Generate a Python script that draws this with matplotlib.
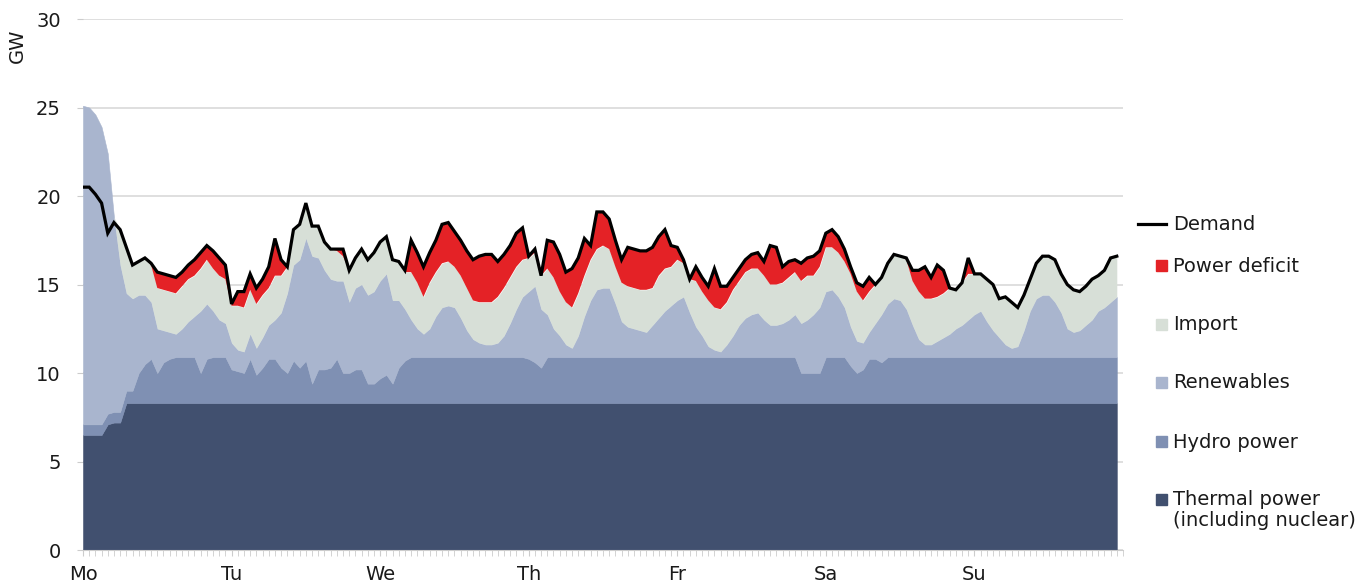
import matplotlib
matplotlib.use("Agg")
import matplotlib.pyplot as plt
from matplotlib.lines import Line2D
from matplotlib.patches import Rectangle
import numpy as np

# hourly values over one week (GW)
days = ["Mo", "Tu", "We", "Th", "Fr", "Sa", "Su"]

thermal = [6.5, 6.5, 6.5, 6.5, 7.1, 7.2, 7.2] + [8.3] * 161

hydro_top = (
    [7.1, 7.1, 7.1, 7.1, 7.7, 7.8, 7.8, 9.0, 9.0, 10.0, 10.5, 10.8, 10.0, 10.6, 10.8, 10.9, 10.9, 10.9, 10.9, 10.0, 10.8, 10.9, 10.9, 10.9]
    + [10.2, 10.1, 10.0, 10.8, 9.9, 10.3, 10.8, 10.8, 10.3, 10.0, 10.7, 10.3, 10.7, 9.4, 10.2, 10.2, 10.3, 10.8, 10.0, 10.0, 10.2, 10.2, 9.4, 9.4]
    + [9.7, 9.9, 9.4, 10.3, 10.7] + [10.9] * 19
    + [10.8, 10.6, 10.3] + [10.9] * 21
    + [10.9] * 20 + [10.0] * 4
    + [10.9, 10.9, 10.9, 10.9, 10.4, 10.0, 10.2, 10.8, 10.8, 10.6] + [10.9] * 14
    + [10.9] * 24
)

renew_top = (
    [25.1, 25.0, 24.6, 23.9, 22.4, 18.8, 16.1, 14.5, 14.2, 14.4, 14.4, 14.0, 12.5, 12.4, 12.3, 12.2, 12.5, 12.9, 13.2, 13.5, 13.9, 13.5, 13.0, 12.8]
    + [11.7, 11.3, 11.2, 12.2, 11.4, 12.0, 12.7, 13.0, 13.4, 14.5, 16.1, 16.4, 17.6, 16.6, 16.5, 15.8, 15.3, 15.2, 15.2, 14.0, 14.8, 15.0, 14.4, 14.6]
    + [15.2, 15.6, 14.1, 14.1, 13.6, 13.0, 12.5, 12.2, 12.5, 13.2, 13.7, 13.8, 13.7, 13.1, 12.4, 11.9, 11.7, 11.6, 11.6, 11.7, 12.1, 12.8, 13.6, 14.3]
    + [14.6, 14.9, 13.6, 13.3, 12.5, 12.1, 11.6, 11.4, 12.1, 13.2, 14.1, 14.7, 14.8, 14.8, 13.9, 12.9, 12.6, 12.5, 12.4, 12.3, 12.7, 13.1, 13.5, 13.8]
    + [14.1, 14.3, 13.4, 12.6, 12.1, 11.5, 11.3, 11.2, 11.6, 12.1, 12.7, 13.1, 13.3, 13.4, 13.0, 12.7, 12.7, 12.8, 13.0, 13.3, 12.8, 13.0, 13.3, 13.7]
    + [14.6, 14.7, 14.3, 13.7, 12.6, 11.8, 11.7, 12.3, 12.8, 13.3, 13.9, 14.2, 14.1, 13.6, 12.7, 11.9, 11.6, 11.6, 11.8, 12.0, 12.2, 12.5, 12.7, 13.0]
    + [13.3, 13.5, 12.9, 12.4, 12.0, 11.6, 11.4, 11.5, 12.4, 13.5, 14.2, 14.4, 14.4, 14.0, 13.4, 12.5, 12.3, 12.4, 12.7, 13.0, 13.5, 13.7, 14.0, 14.3]
)

import_top = (
    [25.1, 25.0, 24.6, 23.9, 22.4, 18.8, 18.1, 17.1, 16.1, 16.3, 16.5, 16.1, 14.8, 14.7, 14.6, 14.5, 14.9, 15.3, 15.5, 15.9, 16.4, 15.9, 15.5, 15.3]
    + [13.8, 13.8, 13.7, 14.7, 13.9, 14.4, 14.8, 15.5, 15.5, 16.0, 18.1, 18.4, 19.6, 18.3, 18.3, 17.4, 17.0, 16.9, 16.6, 15.8, 16.5, 17.0, 16.4, 16.8]
    + [17.4, 17.7, 16.4, 16.3, 15.7, 15.7, 15.1, 14.3, 15.1, 15.7, 16.2, 16.3, 16.0, 15.5, 14.8, 14.1, 14.0, 14.0, 14.0, 14.3, 14.8, 15.4, 16.0, 16.4]
    + [16.5, 16.8, 15.5, 15.9, 15.4, 14.6, 14.0, 13.7, 14.5, 15.5, 16.4, 17.0, 17.2, 17.0, 16.0, 15.1, 14.9, 14.8, 14.7, 14.7, 14.8, 15.5, 15.9, 16.0]
    + [16.4, 16.2, 15.3, 15.2, 14.6, 14.1, 13.7, 13.6, 14.0, 14.7, 15.2, 15.7, 15.9, 15.9, 15.5, 15.0, 15.0, 15.1, 15.4, 15.7, 15.2, 15.5, 15.5, 16.0]
    + [17.1, 17.1, 16.8, 16.3, 15.6, 14.6, 14.1, 14.6, 15.0, 15.4, 16.2, 16.7, 16.6, 16.4, 15.2, 14.6, 14.2, 14.2, 14.3, 14.5, 14.8, 14.7, 15.1, 15.6]
    + [15.6, 15.6, 15.3, 15.0, 14.2, 14.3, 14.0, 13.7, 14.4, 15.3, 16.2, 16.6, 16.6, 16.4, 15.6, 15.0, 14.7, 14.6, 14.9, 15.3, 15.5, 15.8, 16.5, 16.6]
)

demand = (
    [20.5, 20.5, 20.1, 19.6, 17.9, 18.5, 18.1, 17.1, 16.1, 16.3, 16.5, 16.2, 15.7, 15.6, 15.5, 15.4, 15.7, 16.1, 16.4, 16.8, 17.2, 16.9, 16.5, 16.1]
    + [13.9, 14.6, 14.6, 15.6, 14.8, 15.3, 16.0, 17.6, 16.4, 16.0, 18.1, 18.4, 19.6, 18.3, 18.3, 17.4, 17.0, 17.0, 17.0, 15.8, 16.5, 17.0, 16.4, 16.8]
    + [17.4, 17.7, 16.4, 16.3, 15.8, 17.5, 16.8, 16.0, 16.8, 17.5, 18.4, 18.5, 18.0, 17.5, 16.9, 16.4, 16.6, 16.7, 16.7, 16.3, 16.7, 17.2, 17.9, 18.2]
    + [16.6, 17.0, 15.5, 17.5, 17.4, 16.7, 15.7, 15.9, 16.5, 17.6, 17.2, 19.1, 19.1, 18.7, 17.5, 16.4, 17.1, 17.0, 16.9, 16.9, 17.1, 17.7, 18.1, 17.2]
    + [17.1, 16.4, 15.3, 16.0, 15.4, 14.9, 15.9, 14.9, 14.9, 15.4, 15.9, 16.4, 16.7, 16.8, 16.3, 17.2, 17.1, 16.0, 16.3, 16.4, 16.2, 16.5, 16.6, 16.9]
    + [17.9, 18.1, 17.7, 17.0, 16.0, 15.1, 14.9, 15.4, 15.0, 15.4, 16.2, 16.7, 16.6, 16.5, 15.8, 15.8, 16.0, 15.4, 16.1, 15.8, 14.8, 14.7, 15.1, 16.5]
    + [15.6, 15.6, 15.3, 15.0, 14.2, 14.3, 14.0, 13.7, 14.4, 15.3, 16.2, 16.6, 16.6, 16.4, 15.6, 15.0, 14.7, 14.6, 14.9, 15.3, 15.5, 15.8, 16.5, 16.6]
)

c_thermal = "#41506f"
c_hydro = "#7f90b3"
c_renew = "#a9b5ce"
c_import = "#d7dfd7"
c_deficit = "#e42226"
txt = "#1a1a1a"

plt.rcParams["font.family"] = "DejaVu Sans"

hours = np.arange(len(demand))
th = np.array(thermal)
hy = np.array(hydro_top)
re = np.array(renew_top)
im = np.array(import_top)
de = np.array(demand)

fig = plt.figure(figsize=(13.72, 5.83), dpi=100)
ax = fig.add_axes([0.0605, 0.0566, 0.758, 0.9108])

kw = dict(linewidth=0.4)
ax.fill_between(hours, 0, th, color=c_thermal, ec=c_thermal, **kw)
ax.fill_between(hours, th, hy, color=c_hydro, ec=c_hydro, **kw)
ax.fill_between(hours, hy, re, color=c_renew, ec=c_renew, **kw)
ax.fill_between(hours, re, im, where=im > re, interpolate=True, color=c_import, lw=0)
ax.fill_between(hours, im, de, where=de > im, interpolate=True, color=c_deficit, lw=0)
ax.plot(hours, de, color="black", lw=2.3, solid_joinstyle="miter")

ax.set_xlim(0, 168)
ax.set_ylim(0, 30)
ax.set_yticks(range(0, 31, 5))
ax.yaxis.grid(True, color="#d9d9d9", lw=1.2)
ax.set_axisbelow(True)

ax.set_xticks(np.arange(0, 168, 24))
ax.set_xticklabels(days)
ax.set_xticks(np.arange(0, 169, 1), minor=True)
ax.tick_params(axis="x", which="both", length=4, color="#cccccc", labelsize=14,
               labelcolor=txt, pad=7)
ax.tick_params(axis="y", length=4, color="#cccccc", labelsize=14, labelcolor=txt, pad=12)

for s in ["top", "right", "left"]:
    ax.spines[s].set_visible(False)
ax.spines["bottom"].set_color("#cccccc")

fig.text(0.013, 0.922, "GW", rotation=90, fontsize=14, color=txt, ha="center", va="center")

# legend drawn at the right side
W, H = 1372, 583
def fx(px):
    return px / W
def fy(py):
    return 1 - py / H

fig.add_artist(Line2D([fx(1138), fx(1166)], [fy(224), fy(224)], color="black", lw=2.3,
                      transform=fig.transFigure))
fig.text(fx(1173), fy(225), "Demand", fontsize=14, color=txt, va="center")

entries = [
    ("Power deficit", c_deficit, 266),
    ("Import", c_import, 325),
    ("Renewables", c_renew, 383),
    ("Hydro power", c_hydro, 442),
    ("Thermal power\n(including nuclear)", c_thermal, 500),
]
for label, col, py in entries:
    fig.add_artist(Rectangle((fx(1156), fy(py + 5)), 11 / W, 11 / H, color=col,
                             transform=fig.transFigure))
    if "\n" in label:
        fig.text(fx(1173), fy(py - 10), label, fontsize=14, color=txt, va="top",
                 linespacing=1.15)
    else:
        fig.text(fx(1173), fy(py), label, fontsize=14, color=txt, va="center")

fig.savefig("out.png", dpi=100)
